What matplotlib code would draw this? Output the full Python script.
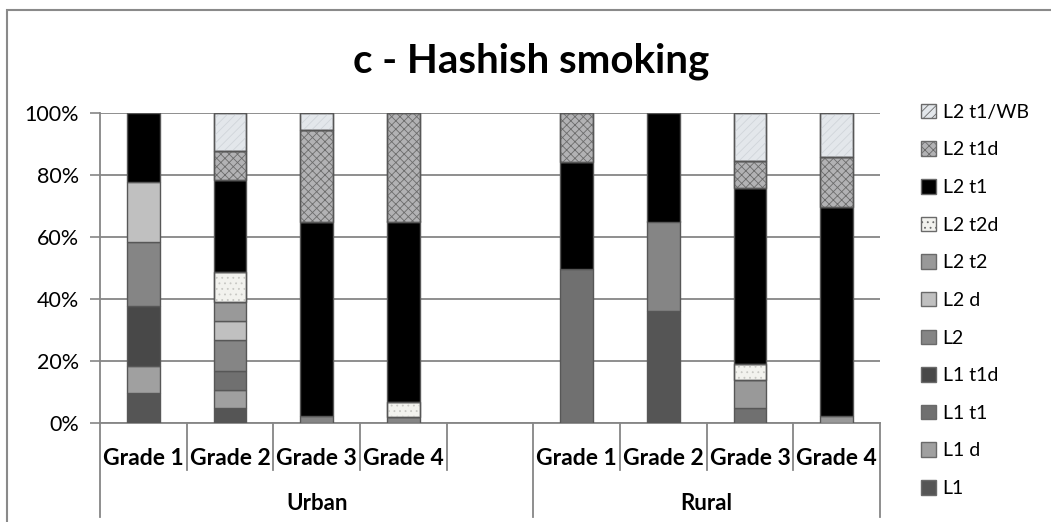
import numpy as np
import matplotlib
matplotlib.use("Agg")
import matplotlib.pyplot as plt
from matplotlib.patches import Rectangle, Patch

# ---------------- data (percent of each column) ----------------
categories = ['Grade 1', 'Grade 2', 'Grade 3', 'Grade 4', '',
              'Grade 1', 'Grade 2', 'Grade 3', 'Grade 4']
groups = ['Urban', 'Rural']
group_spans = [(0, 4), (5, 8)]

series_names = ['L1', 'L1 d', 'L1 t1', 'L1 t1d', 'L2', 'L2 d', 'L2 t2',
                'L2 t2d', 'L2 t1', 'L2 t1d', 'L2 t1/WB']
L1       = [9.8, 5.0, 0, 0, 0, 0, 36.1, 0, 0]
L1_d     = [8.5, 5.8, 0, 0, 0, 0, 0, 0, 0]
L1_t1    = [0, 6.0, 0, 0, 0, 49.6, 0, 5.0, 0]
L1_t1d   = [19.4, 0, 0, 0, 0, 0, 0, 0, 0]
L2       = [20.8, 10.1, 2.2, 1.9, 0, 0, 28.9, 0, 0]
L2_d     = [19.1, 6.0, 0, 0, 0, 0, 0, 0, 0]
L2_t2    = [0, 6.0, 0, 0, 0, 0, 0, 9.0, 2.2]
L2_t2d   = [0, 9.9, 0, 4.9, 0, 0, 0, 4.9, 0]
L2_t1    = [22.4, 29.6, 62.8, 58.2, 0, 34.5, 35.0, 56.9, 67.4]
L2_t1d   = [0, 9.2, 29.6, 35.0, 0, 15.9, 0, 8.8, 16.2]
L2_t1_WB = [0, 12.4, 5.4, 0, 0, 0, 0, 15.4, 14.2]
series_values = [L1, L1_d, L1_t1, L1_t1d, L2, L2_d, L2_t2,
                 L2_t2d, L2_t1, L2_t1d, L2_t1_WB]

# ---------------- styles ----------------
face = ['#555555', '#a0a0a0', '#707070', '#484848', '#858585', '#c0c0c0',
        '#999999', '#f2f2ee', '#000000', '#b2b2b4', '#e3e7eb']
hatch = [None, None, None, None, None, None, None, '...', None, 'xxxx', '////']
hatch_col = [None] * 7 + ['#c8c8c4', None, '#6c6c6c', '#d0d5da']
edge = '#575757'

plt.rcParams['font.family'] = ['Lato', 'DejaVu Sans']
plt.rcParams['hatch.linewidth'] = 0.6

fig = plt.figure(figsize=(10.51, 5.22), dpi=100)
ax = fig.add_axes([100 / 1051, 99 / 522, 780 / 1051, 310 / 522])

x = np.arange(len(categories))
bottom = np.zeros(len(categories))
for name, vals, fc, h, hc in zip(series_names, series_values, face, hatch, hatch_col):
    vals = np.array(vals, dtype=float)
    m = vals > 0
    ax.bar(x[m], vals[m], 0.38, bottom=bottom[m], color=fc, edgecolor=edge,
           linewidth=1.0, zorder=3)
    if h is not None:
        # texture on top, then the outline again
        ax.bar(x[m], vals[m], 0.38, bottom=bottom[m], color='none', edgecolor=hc,
               linewidth=0, hatch=h, zorder=3.5)
        ax.bar(x[m], vals[m], 0.38, bottom=bottom[m], color='none', edgecolor=edge,
               linewidth=1.0, zorder=3.6)
    bottom += vals

ax.set_xlim(-0.5, len(categories) - 0.5)
ax.set_ylim(0, 100)
ax.set_yticks(np.arange(0, 101, 20))
ax.set_yticklabels([f'{v}%' for v in range(0, 101, 20)])
ax.tick_params(axis='y', length=7, width=1.2, color='#868686', labelsize=15.5,
               pad=8)
ax.set_xticks([])
ax.yaxis.grid(True, color='#868686', linewidth=1.3, zorder=0)
for s in ['top', 'right']:
    ax.spines[s].set_visible(False)
for s in ['left', 'bottom']:
    ax.spines[s].set_color('#868686')
    ax.spines[s].set_linewidth(1.3)

# ---------------- two-level category axis ----------------
trans = ax.get_xaxis_transform()
short_y, long_y = -0.152, -0.303
boundaries = np.arange(len(categories) + 1) - 0.5
long_lines = [-0.5] + [e + 0.5 for _, e in group_spans]
for b in boundaries:
    y_end = long_y if b in long_lines else short_y
    ax.plot([b, b], [0, y_end], color='#868686', lw=1.3, transform=trans,
            clip_on=False)
for i, c in enumerate(categories):
    ax.text(i, -0.1355, c, transform=trans, ha='center', va='baseline',
            fontsize=16.5, fontweight='bold')
for g, (s, e) in zip(groups, group_spans):
    ax.text((s + e) / 2, -0.281, g, transform=trans, ha='center', va='baseline',
            fontsize=16, fontweight='bold')

# ---------------- title, legend, frame ----------------
fig.text(0.5057, 1 - 73 / 522, 'c - Hashish smoking', ha='center', va='baseline',
         fontsize=29, fontweight='bold')

handles = []
for name, fc, h, hc in zip(series_names, face, hatch, hatch_col):
    handles.append(Patch(facecolor=fc, edgecolor='#6a6a6a', hatch=h, label=name))
leg = fig.legend(handles[::-1], series_names[::-1], loc='upper left',
                 bbox_to_anchor=(913 / 1051, 1 - 96 / 522), frameon=False,
                 fontsize=14, handlelength=0.77, handleheight=0.77,
                 handletextpad=0.36, labelspacing=1.06, borderaxespad=0)

fig.patches.append(Rectangle((7 / 1051, -0.05), 1.2, 1 - 10 / 522 + 0.05,
                             transform=fig.transFigure, fill=False,
                             edgecolor='#8a8a8a', linewidth=1.5))

fig.savefig('out.png', dpi=100)
